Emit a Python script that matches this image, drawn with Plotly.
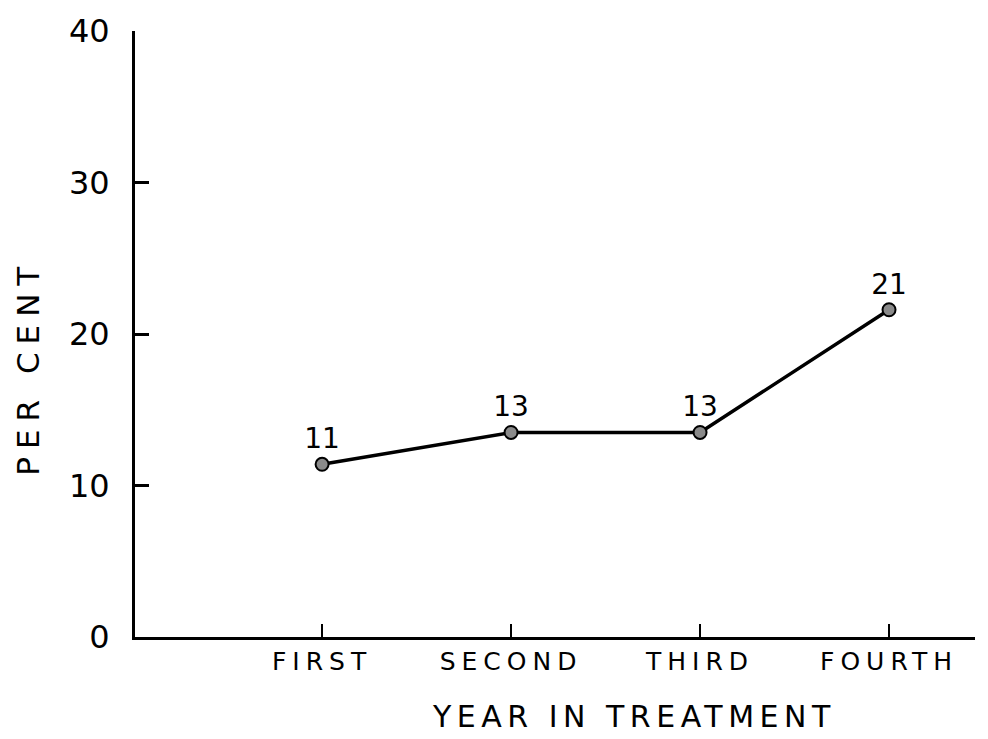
import plotly.graph_objects as go

years = ["FIRST", "SECOND", "THIRD", "FOURTH"]
per_cent = [11.4, 13.5, 13.5, 21.6]
value_labels = ["11", "13", "13", "21"]
y_ticks = [0, 10, 20, 30, 40]

FONT = "DejaVu Sans"
W, H = 988, 739
L, R, T, B = 135, 13, 27, 102
PW, PH = W - L - R, H - T - B


def spaced(s, px):
    return f'<span style="letter-spacing:{px}px">{s}</span>'


fig = go.Figure()
fig.add_trace(go.Scatter(
    x=list(range(len(years))), y=per_cent,
    mode="lines+markers+text",
    text=value_labels, textposition="top center",
    textfont=dict(family=FONT, size=28, color="black"),
    line=dict(color="black", width=3.5),
    marker=dict(size=13, color="#8a8a8a", line=dict(color="black", width=2)),
    cliponaxis=False, showlegend=False,
))

fig.update_layout(
    width=W, height=H,
    margin=dict(l=L, r=R, t=T, b=B),
    paper_bgcolor="white", plot_bgcolor="white",
    font=dict(family=FONT, color="black"),
    xaxis=dict(
        range=[-0.99, 3.455],
        tickvals=list(range(len(years))), ticktext=[spaced(y, 6) for y in years],
        ticks="inside", ticklen=13, tickwidth=2, tickcolor="black",
        tickfont=dict(size=25, family=FONT),
        showline=True, linecolor="black", linewidth=3,
        showgrid=False, zeroline=False,
    ),
    yaxis=dict(
        range=[0, 40], tickvals=y_ticks,
        ticks="inside", ticklen=14, tickwidth=2.5, tickcolor="black",
        tickfont=dict(size=32, family=FONT),
        showline=True, linecolor="black", linewidth=3,
        showgrid=False, zeroline=False, ticklabelstandoff=16,
    ),
    annotations=[
        dict(
            text=spaced("PER CENT", 8), textangle=-90,
            x=(28 - L) / PW, y=(H - B - 366) / PH,
            xref="paper", yref="paper", showarrow=False,
            xanchor="center", yanchor="middle",
            font=dict(size=31, family=FONT),
        ),
        dict(
            text=spaced("YEAR IN TREATMENT", 5.5),
            x=(634 - L) / PW, y=(H - B - 717) / PH,
            xref="paper", yref="paper", showarrow=False,
            xanchor="center", yanchor="middle",
            font=dict(size=30, family=FONT),
        ),
    ],
)

fig.write_html("out.html", config={"displayModeBar": False},
               post_script="document.body.style.margin='0';")
